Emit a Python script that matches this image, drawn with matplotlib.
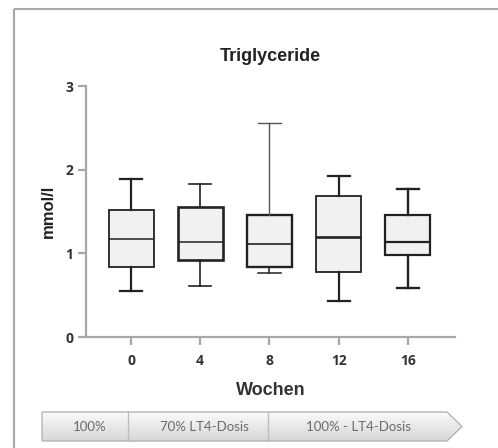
import numpy as np
import matplotlib.pyplot as plt
from matplotlib.patches import Polygon, Rectangle

# Triglyceride per week (mmol/l)
weeks = ["0", "4", "8", "12", "16"]
whis_lo = [0.55, 0.61, 0.76, 0.43, 0.58]
q1 = [0.84, 0.92, 0.84, 0.78, 0.98]
median = [1.17, 1.13, 1.11, 1.19, 1.13]
q3 = [1.52, 1.55, 1.46, 1.68, 1.46]
whis_hi = [1.89, 1.83, 2.56, 1.92, 1.77]

phases = ["100%", "70% LT4-Dosis", "100% - LT4-Dosis"]
phase_edges = [42, 128, 268, 462]  # banner x positions in pixels

W, H = 498, 448
fig = plt.figure(figsize=(W / 100, H / 100), dpi=100)

# outer frame + banner drawn in pixel coords on a background axes
bg = fig.add_axes([0, 0, 1, 1])
bg.set_xlim(0, W)
bg.set_ylim(H, 0)
bg.axis("off")
bg.add_patch(Rectangle((14, 9), W + 10, H + 10, fill=False, ec="#a8a8a8", lw=1.5))

top, bot = 412, 441
tip_start = 447
arrow = Polygon([(phase_edges[0], top), (tip_start, top), (phase_edges[-1], (top + bot) / 2),
                 (tip_start, bot), (phase_edges[0], bot)], closed=True,
                fc="none", ec="#b5b5b5", lw=1.0, zorder=3)
bg.add_patch(arrow)
grad = np.linspace(0.98, 0.84, 50).reshape(-1, 1)
im = bg.imshow(grad, cmap="gray", vmin=0, vmax=1, aspect="auto",
               extent=(phase_edges[0], phase_edges[-1], bot, top), zorder=2)
im.set_clip_path(arrow)
for x in phase_edges[1:-1]:
    bg.plot([x, x], [top, bot], color="#bdbdbd", lw=1.0, zorder=4)
centers = [90, 204, 358]
for c, t in zip(centers, phases):
    bg.text(c, (top + bot) / 2 + 0.5, t, ha="center", va="center", fontsize=9.5,
            color="#6a6a6a", family="Lato", zorder=5)

# box plot
ax = fig.add_axes([86 / W, 1 - 337 / H, (455 - 86) / W, (337 - 86) / H])
ax.patch.set_alpha(0)
stats = []
for i in range(len(weeks)):
    stats.append(dict(med=median[i], q1=q1[i], q3=q3[i],
                      whislo=whis_lo[i], whishi=whis_hi[i], fliers=[]))
pos = np.arange(len(weeks))
bp = ax.bxp(stats, positions=pos, widths=0.65, capwidths=0.32, patch_artist=True,
            showfliers=False)

box_lw = [1.3, 1.9, 1.7, 1.3, 1.6]
med_lw = [1.1, 1.1, 1.2, 1.9, 1.6]
whis_lw = [1.6, 1.2, 1.1, 1.6, 1.7]
for i in range(len(weeks)):
    bp["boxes"][i].set(facecolor="#f1f1f1", edgecolor="#222222", linewidth=box_lw[i])
    bp["medians"][i].set(color="#222222", linewidth=med_lw[i])
    for j in (2 * i, 2 * i + 1):
        bp["whiskers"][j].set(color="#222222", linewidth=whis_lw[i])
        bp["caps"][j].set(color="#222222", linewidth=whis_lw[i])
bp["whiskers"][5].set(color="#555555", linewidth=1.0)
bp["caps"][5].set(color="#555555", linewidth=1.0)

ax.set_xlim(-0.65, 4.68)
ax.set_ylim(0, 3)
ax.set_yticks([0, 1, 2, 3])
ax.set_xticks(pos)
ax.set_xticklabels(weeks)
for s in ("top", "right"):
    ax.spines[s].set_visible(False)
for s in ("left", "bottom"):
    ax.spines[s].set_color("#a8a8a8")
    ax.spines[s].set_linewidth(1.6)
ax.tick_params(direction="out", length=6, width=1.6, color="#a8a8a8",
               labelsize=10, labelcolor="#333333", pad=3)
for lab in ax.get_xticklabels() + ax.get_yticklabels():
    lab.set_fontweight("bold")
    lab.set_family("Open Sans")
ax.tick_params(axis="x", pad=6)

ax.set_title("Triglyceride", fontsize=13, fontweight="bold", color="#222222",
             family="Liberation Sans", pad=18)
ax.set_ylabel("mmol/l", fontsize=12, fontweight="bold", color="#222222",
              family="Liberation Sans", labelpad=7)
ax.set_xlabel("Wochen", fontsize=13, fontweight="bold", color="#333333",
              family="Liberation Sans", labelpad=10)

fig.savefig("out.png", dpi=100)
